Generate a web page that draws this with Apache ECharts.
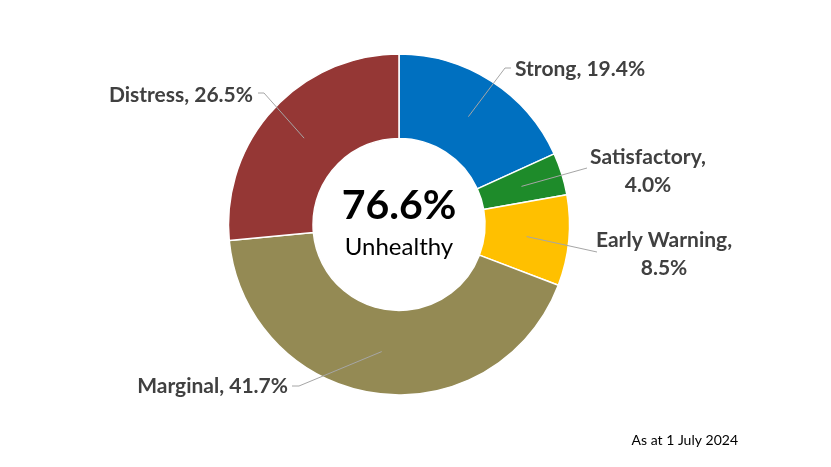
<!DOCTYPE html>
<html>
<head>
<meta charset="utf-8">
<script src="https://cdn.jsdelivr.net/npm/echarts@6/dist/echarts.min.js"></script>
<style>html,body{margin:0;padding:0;background:#fff}#c{width:831px;height:467px}</style>
</head>
<body>
<div id="c"></div>
<script>
const categories = ['Strong', 'Satisfactory', 'Early Warning', 'Marginal', 'Distress'];
// slice sizes as drawn in the picture (measured from the sector angles)
const values = [18.2, 4.0, 8.6, 42.7, 26.5];
// percentages as printed in the data labels
const labelPercents = ['19.4%', '4.0%', '8.5%', '41.7%', '26.5%'];
const colors = ['#0070C0', '#1E8B2A', '#FFC000', '#948A54', '#953735'];
const wrapLabel = [false, true, true, false, false];
const centerValue = '76.6%';
const centerCaption = 'Unhealthy';
const footnote = 'As at 1 July 2024';

// layout (not data)
const CX = 399, CY = 224.5, R_IN = 86, R_OUT = 170.5;
const labelAnchors = [
  {x: 515, y: 69, align: 'left', end: [511, 68], elbow: -6},
  {x: 648, y: 171, align: 'center', end: [587, 168], elbow: 0},
  {x: 664, y: 254, align: 'center', end: [597, 252], elbow: 0},
  {x: 288, y: 386, align: 'right', end: [292, 386], elbow: 7},
  {x: 253, y: 95, align: 'right', end: [258, 93], elbow: 6}
];

const total = values.reduce((a, b) => a + b, 0);
function midPoint(i) {
  let cum = 0;
  for (let k = 0; k < i; k++) cum += values[k];
  const theta = (cum + values[i] / 2) / total * 2 * Math.PI;
  const r = (R_IN + R_OUT) / 2;
  return [CX + r * Math.sin(theta), CY - r * Math.cos(theta)];
}
const leaderLines = labelAnchors.map((a, i) => {
  const s = midPoint(i);
  const pts = a.elbow ? [s, [a.end[0] + a.elbow, a.end[1]], a.end] : [s, a.end];
  return {type: 'polyline', z: 100, silent: true, shape: {points: pts}, style: {stroke: '#A6A6A6', lineWidth: 1, fill: null}};
});

const chart = echarts.init(document.getElementById('c'));
const FONT = 'Lato, "Open Sans", sans-serif';
chart.setOption({
  animation: false,
  backgroundColor: '#fff',
  graphic: [
    {type: 'text', x: CX, y: 206, style: {text: centerValue, font: 'bold 41px ' + FONT, fill: '#000', align: 'center', verticalAlign: 'middle'}},
    {type: 'text', x: CX, y: 247, style: {text: centerCaption, font: '24px ' + FONT, fill: '#000', align: 'center', verticalAlign: 'middle'}},
    {type: 'text', x: 738, y: 440, style: {text: footnote, font: '14px ' + FONT, fill: '#000', align: 'right', verticalAlign: 'middle'}}
  ].concat(leaderLines),
  series: [{
    type: 'pie',
    center: [CX, CY],
    radius: [R_IN, R_OUT],
    startAngle: 90,
    clockwise: true,
    avoidLabelOverlap: false,
    itemStyle: {borderColor: '#fff', borderWidth: 1.5},
    label: {
      show: true,
      fontFamily: FONT,
      fontWeight: 'bold',
      fontSize: 21,
      color: '#404040',
      lineHeight: 28,
      formatter: p => p.name + ',' + (wrapLabel[p.dataIndex] ? '\n' : ' ') + labelPercents[p.dataIndex]
    },
    labelLine: {show: false},
    labelLayout: function (params) {
      const a = labelAnchors[params.dataIndex];
      return {x: a.x, y: a.y, align: a.align, verticalAlign: 'middle'};
    },
    data: categories.map((c, i) => ({name: c, value: values[i], itemStyle: {color: colors[i]}}))
  }]
});
</script>
</body>
</html>
